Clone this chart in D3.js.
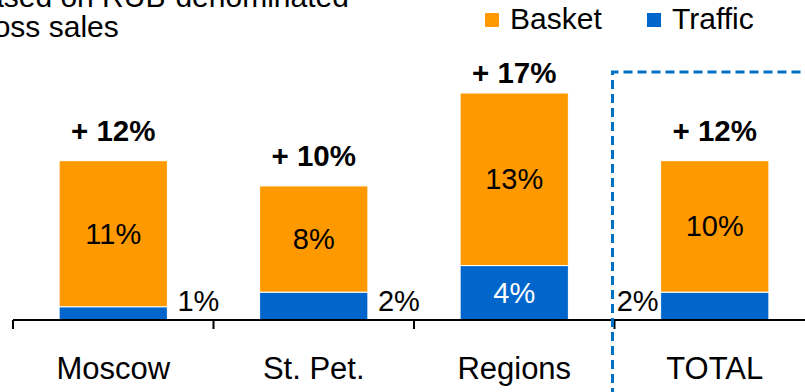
<!DOCTYPE html>
<html>
<head>
<meta charset="utf-8">
<script src="https://cdn.jsdelivr.net/npm/d3@7"></script>
<style>
  body { margin: 0; background: #fff; }
  svg { display: block; font-family: "Liberation Sans", Arial, sans-serif; }
</style>
</head>
<body>
<div id="chart"></div>
<script>
// data
const categories = ['Moscow', 'St. Pet.', 'Regions', 'TOTAL'];
const traffic = [1.0, 2.1, 4.1, 2.1];
const basket = [11.0, 8.0, 13.0, 9.9];
const trafficLabels = ['1%', '2%', '4%', '2%'];
const basketLabels = ['11%', '8%', '13%', '10%'];
const totalLabels = ['+ 12%', '+ 10%', '+ 17%', '+ 12%'];
const seriesNames = ['Basket', 'Traffic'];
const titleLines = ['Based on RUB-denominated', 'gross sales'];

const W = 805, H = 392;
const orange = '#FF9900', blue = '#0066CC', boxBlue = '#0070C0';

const svg = d3.select('#chart').append('svg')
  .attr('width', W)
  .attr('height', H);

const x = d3.scaleBand()
  .domain(categories)
  .range([13, 815])
  .paddingInner(0.46)
  .paddingOuter(0.23);

const y = d3.scaleLinear()
  .domain([0, 12])
  .range([320, 160.7]);

const gap = (x.step() - x.bandwidth()) / 2;

// title (clipped by the page edge, as in the original)
svg.append('text')
  .attr('y', 7)
  .style('font-size', '30px')
  .selectAll('tspan')
  .data(titleLines)
  .enter()
  .append('tspan')
  .attr('x', -33)
  .attr('dy', (d, i) => i === 0 ? 0 : 30)
  .text(d => d);

// legend
const legend = svg.append('g').attr('transform', 'translate(485, 0)');
[[0, orange], [162, blue]].forEach(([dx, c], i) => {
  legend.append('rect')
    .attr('x', dx).attr('y', 13)
    .attr('width', 14).attr('height', 14)
    .attr('fill', c);
  legend.append('text')
    .attr('x', dx + 25).attr('y', 29)
    .style('font-size', '30px')
    .text(seriesNames[i]);
});

// bars
const bars = svg.append('g');
categories.forEach((cat, i) => {
  const x0 = x(cat);
  const t = traffic[i], b = basket[i];
  bars.append('rect')
    .attr('x', x0).attr('y', y(t))
    .attr('width', x.bandwidth()).attr('height', y(0) - y(t))
    .attr('fill', blue)
    .attr('stroke', '#fff').attr('stroke-width', 1);
  bars.append('rect')
    .attr('x', x0).attr('y', y(t + b))
    .attr('width', x.bandwidth()).attr('height', y(t) - y(t + b))
    .attr('fill', orange)
    .attr('stroke', '#fff').attr('stroke-width', 1);

  // basket label inside
  bars.append('text')
    .attr('x', x0 + x.bandwidth() / 2)
    .attr('y', (y(t) + y(t + b)) / 2 + 10)
    .attr('text-anchor', 'middle')
    .style('font-size', '29px')
    .text(basketLabels[i]);

  // traffic label: inside if the segment is tall enough, else beside the bar
  const tl = bars.append('text')
    .style('font-size', '29px')
    .text(trafficLabels[i]);
  if (y(0) - y(t) > 40) {
    tl.attr('x', x0 + x.bandwidth() / 2)
      .attr('y', (y(0) + y(t)) / 2 + 10)
      .attr('text-anchor', 'middle')
      .attr('fill', '#fff');
  } else if (cat === 'TOTAL') {
    tl.attr('x', x0 - 2).attr('y', 311).attr('text-anchor', 'end');
  } else {
    tl.attr('x', x0 + x.bandwidth() + 10).attr('y', 311);
  }

  // total label on top
  bars.append('text')
    .attr('x', x0 + x.bandwidth() / 2)
    .attr('y', Math.max(y(t + b) - 19.5, 83))
    .attr('text-anchor', 'middle')
    .style('font-size', '29.5px')
    .style('font-weight', 'bold')
    .text(totalLabels[i]);
});

// axis
svg.append('line')
  .attr('x1', 13).attr('x2', W)
  .attr('y1', y(0)).attr('y2', y(0))
  .attr('stroke', '#000').attr('stroke-width', 2);

categories.forEach(cat => {
  const tx = x(cat) - gap;
  svg.append('line')
    .attr('x1', tx).attr('x2', tx)
    .attr('y1', y(0)).attr('y2', y(0) + 9)
    .attr('stroke', '#000').attr('stroke-width', 2);
  svg.append('text')
    .attr('x', x(cat) + x.bandwidth() / 2)
    .attr('y', 379)
    .attr('text-anchor', 'middle')
    .style('font-size', '31px')
    .text(cat);
});

// dashed highlight box around TOTAL
const bx = x('TOTAL') - gap - 2;
svg.append('path')
  .attr('d', `M${bx},${H + 5}V72H${W + 5}`)
  .attr('fill', 'none')
  .attr('stroke', boxBlue)
  .attr('stroke-width', 3)
  .attr('stroke-dasharray', '9,5');
</script>
</body>
</html>
